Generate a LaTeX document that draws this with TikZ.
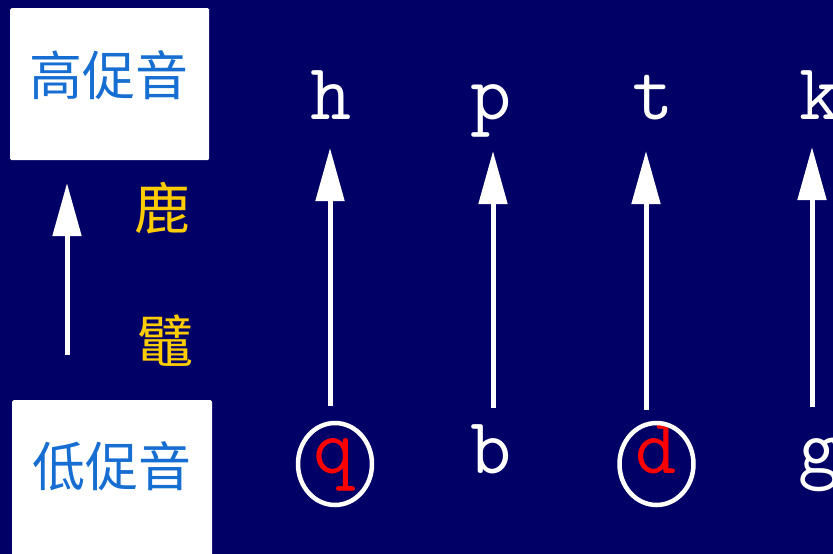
\documentclass[tikz,border=0pt]{standalone}
\usepackage{fontspec}
\newfontfamily\cjk{Noto Sans CJK SC}
\usetikzlibrary{arrows.meta,shapes.geometric}
\definecolor{bg}{RGB}{0,0,102}
\definecolor{cblue}{RGB}{22,110,210}
\definecolor{cyel}{RGB}{255,204,0}
\definecolor{cred}{RGB}{255,0,0}
\begin{document}
\begin{tikzpicture}[x=1pt,y=-1pt,
  boxst/.style={fill=white, rounded corners=1.5pt, inner sep=0, anchor=north west},
  cjkblue/.style={text=cblue, font=\cjk\fontsize{53}{53}\selectfont, inner sep=0},
  cjkyel/.style={text=cyel, font=\cjk\fontsize{56}{56}\selectfont, inner sep=0},
  lett/.style={text=white, font=\ttfamily\fontsize{80}{80}\selectfont, inner sep=0, anchor=base},
  redlett/.style={lett, text=cred},
  ring/.style={draw=white, line width=4.5pt, ellipse, inner sep=0, minimum width=74pt, minimum height=82pt},
  arr/.style={draw=white, line width=5pt, -{Triangle[width=28pt,length=53pt]}}
]
\fill[bg] (0,0) rectangle (833,554);
\useasboundingbox (0,0) rectangle (833,554);
\clip (0,0) rectangle (833,554);

% boxes
\node[boxst, minimum width=199pt, minimum height=152pt] (hibox) at (10,8) {};
\node[boxst, minimum width=200pt, minimum height=170pt] (lobox) at (12,400) {};
\node[cjkblue] (hitext) at (109,75) {高促音};
\node[cjkblue] (lotext) at (112,466) {低促音};

% left arrow
\coordinate (ls) at (67,355);
\coordinate (lt) at (67,183);
\draw[arr] (ls) -- (lt);

% yellow characters
\node[cjkyel] (lu) at (162,208) {鹿};
\node[cjkyel] (bi) at (165,341) {鼊};

% top letters
\node[lett] (h) at (331,119) {h};
\node[lett] (p) at (491,119) {p};
\node[lett] (t) at (653,119) {t};
\node[lett] (k) at (820,119) {k};

% bottom letters
\node[redlett] (q) at (334,473) {q};
\node[lett] (b) at (491,473) {b};
\node[redlett] (d) at (656,473) {d};
\node[lett] (g) at (819,473) {g};

% rings
\node[ring] (qr) at (335,464) {};
\node[ring] (dr) at (656.5,464) {};

% arrows
\coordinate (qa) at (330,406);
\coordinate (ha) at (330,148);
\coordinate (ba) at (493,408);
\coordinate (pa) at (493,151);
\coordinate (da) at (646,410);
\coordinate (ta) at (646,151);
\coordinate (ga) at (812,407);
\coordinate (ka) at (812,147);
\draw[arr] (qa) -- (ha);
\draw[arr] (ba) -- (pa);
\draw[arr] (da) -- (ta);
\draw[arr] (ga) -- (ka);
\end{tikzpicture}
\end{document}
